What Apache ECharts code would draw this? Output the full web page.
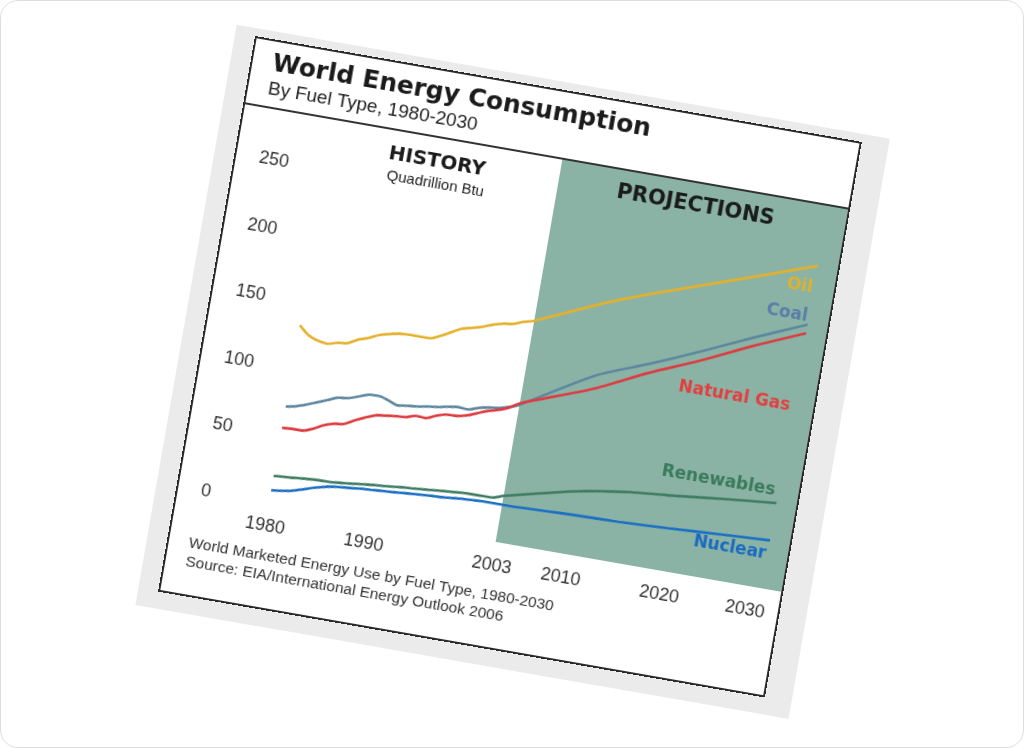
<!DOCTYPE html>
<html>
<head>
<meta charset="utf-8">
<script src="https://cdn.jsdelivr.net/npm/echarts@6/dist/echarts.min.js"></script>
<style>
html,body{margin:0;padding:0;width:1024px;height:748px;background:#fff;overflow:hidden;}
#frame{position:absolute;left:0;top:0;width:1022px;height:746px;border:1px solid #dedede;border-radius:18px;}
#rot{position:absolute;left:255px;top:36px;width:0;height:0;transform-origin:0 0;transform:rotate(9.9deg);}
#card{position:absolute;left:-20px;top:-8px;width:663px;height:589px;background:#ebebeb;}
#chart{position:absolute;left:0;top:0;width:616px;height:564px;background:#fff;}
#border{position:absolute;left:0;top:0;width:616px;height:564px;box-sizing:border-box;border:2px solid #2b2b2b;pointer-events:none;}
</style>
</head>
<body>
<div id="frame"></div>
<div id="rot">
  <div id="card"></div>
  <div id="chart"></div>
  <div id="border"></div>
</div>
<script>
// ---- data (quadrillion Btu) ----
const years = [1980,1981,1982,1983,1984,1985,1986,1987,1988,1989,1990,1991,1992,1993,1994,1995,1996,1997,1998,1999,2000,2001,2002,2003,2010,2015,2020,2025,2030];
const oil = [133,127,124,123,125,126,130,132.5,136,138,139.5,140,140,140,143,147,151,153,155,158,160,161,164,166,189,203,216,229,242];
const coal = [72,73.5,76,79,82,85,86,88.5,91.2,91.5,89.5,87,88,88.7,90,91,92.5,93.5,93,95.5,97,98,100,103,134,149,165,182,198];
const naturalGas = [56,56.5,56.5,59,63,65.5,66.6,70.5,74,77,78,79,79.5,81.7,81.3,84.5,86.6,86.8,88.5,91.5,94.5,96.5,99.5,104,124,142,158,175.5,191.5];
const renewables = [19.8,20.5,21,21.7,22.3,22.5,22.8,23.5,24.3,25.2,26,26.5,27.2,28,28.5,29.1,29.8,30.4,31,31.6,31.7,31.8,32,34.5,47,53,56.5,60.5,64];
const nuclear = [9.1,10,11.3,13.5,16,18,19.5,20.3,21,21.8,22.2,22.7,23.2,23.8,24.4,25,25.4,25.8,26.5,27.2,27.5,27.9,27.9,27.9,29.5,30.3,32,34,36];
const seriesNames = ['Oil','Coal','Natural Gas','Renewables','Nuclear'];
const xTickLabels = [1980,1990,2003,2010,2020,2030];
const yTickLabels = [0,50,100,150,200,250];
const projectionStart = 2003;
const X_MIN = 1980, X_MAX = 2032, Y_MIN = 0, Y_MAX = 287;

const titleText = 'World Energy Consumption';
const subtitleText = 'By Fuel Type, 1980-2030';
const historyText = 'HISTORY';
const unitText = 'Quadrillion Btu';
const projText = 'PROJECTIONS';
const note1 = 'World Marketed Energy Use by Fuel Type, 1980-2030';
const note2 = 'Source: EIA/International Energy Outlook 2006';

// ---- styles ----
const values = [oil, coal, naturalGas, renewables, nuclear];
const colors = ['#e5b02b','#5d879f','#de3a3f','#3f7c63','#1a6fc4'];
const labelColors = ['#dcb233','#5a7ea8','#e2403f','#3b7a5c','#1a6bc0'];
const labelOffsets = [[-1,23],[-1,-8],[-3,74],[-3,-12],[-1,14]];

const chart = echarts.init(document.getElementById('chart'));
const sans = 'Liberation Sans, Arial, sans-serif';
const bold = 'DejaVu Sans, sans-serif';

const series = seriesNames.map((name, k) => {
  const v = values[k];
  const s = {
    name: name,
    type: 'line',
    data: years.map((y, i) => [y, v[i]]),
    showSymbol: false,
    smooth: 0.25,
    lineStyle: {color: colors[k], width: 2.6},
    itemStyle: {color: colors[k]},
    silent: true,
    z: 3,
    markPoint: {
      silent: true,
      symbol: 'rect',
      symbolSize: 1,
      itemStyle: {color: 'transparent'},
      label: {
        show: true,
        position: 'left',
        distance: 0,
        offset: labelOffsets[k],
        formatter: name,
        color: labelColors[k],
        fontFamily: bold,
        fontWeight: 'bold',
        fontSize: 17
      },
      data: [{coord: [years[years.length-1], v[v.length-1]]}]
    }
  };
  if (k === 0) {
    s.markArea = {
      silent: true,
      itemStyle: {color: '#8ab3a5'},
      data: [[{xAxis: projectionStart, yAxis: Y_MIN}, {xAxis: X_MAX, yAxis: Y_MAX}]]
    };
  }
  return s;
});

const option = {
  animation: false,
  backgroundColor: '#fff',
  title: [
    {text: titleText, left: 22, top: 12, padding: 0,
     textStyle: {fontFamily: bold, fontWeight: 'bold', fontSize: 25, color: '#1b1b1b'}},
    {text: subtitleText, left: 22, top: 40, padding: 0,
     textStyle: {fontFamily: sans, fontWeight: 'normal', fontSize: 19, color: '#222'}},
    {text: historyText, left: 201, top: 83, padding: 0, textAlign: 'center',
     textStyle: {fontFamily: bold, fontWeight: 'bold', fontSize: 20, color: '#1b1b1b'}},
    {text: unitText, left: 203, top: 107, padding: 0, textAlign: 'center',
     textStyle: {fontFamily: sans, fontWeight: 'normal', fontSize: 15, color: '#222'}},
    {text: projText, left: 463, top: 81, padding: 0, textAlign: 'center',
     textStyle: {fontFamily: bold, fontWeight: 'bold', fontSize: 21, color: '#1b1b1b'}},
    {text: note1, left: 22, top: 503, padding: 0,
     textStyle: {fontFamily: sans, fontWeight: 'normal', fontSize: 15.5, color: '#333'}},
    {text: note2, left: 22, top: 522, padding: 0,
     textStyle: {fontFamily: sans, fontWeight: 'normal', fontSize: 15.5, color: '#333'}}
  ],
  graphic: [
    {type: 'line', shape: {x1: 0, y1: 68, x2: 616, y2: 68}, style: {stroke: '#333', lineWidth: 2}, silent: true}
  ],
  grid: {left: 94, top: 69, width: 520, height: 388, containLabel: false},
  xAxis: {
    type: 'value', min: X_MIN, max: X_MAX,
    axisLine: {show: false}, axisTick: {show: false}, splitLine: {show: false},
    axisLabel: {
      customValues: xTickLabels,
      margin: 15,
      fontFamily: sans, fontSize: 18, color: '#333',
      formatter: function (v) { return v === xTickLabels[xTickLabels.length-1] ? '{e|' + v + '}' : String(v); },
      rich: {e: {fontFamily: sans, fontSize: 18, color: '#333', padding: [0, 26, 0, 0]}}
    }
  },
  yAxis: {
    type: 'value', min: Y_MIN, max: Y_MAX,
    axisLine: {show: false}, axisTick: {show: false}, splitLine: {show: false},
    axisLabel: {
      customValues: yTickLabels,
      align: 'left',
      margin: 69,
      fontFamily: sans, fontSize: 18, color: '#333'
    }
  },
  series: series
};
chart.setOption(option);
</script>
</body>
</html>
